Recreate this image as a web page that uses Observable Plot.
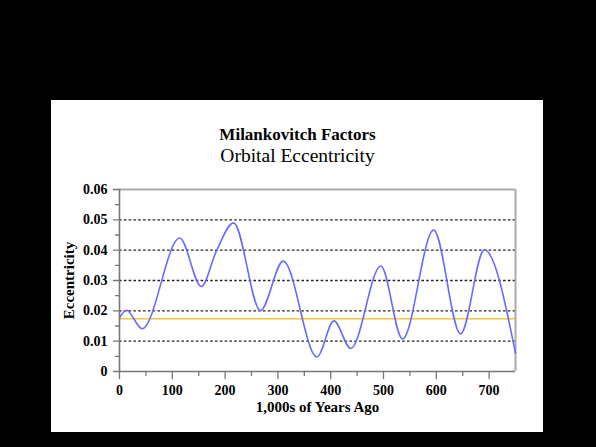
<!DOCTYPE html>
<html><head><meta charset="utf-8">
<script src="https://cdn.jsdelivr.net/npm/d3@7"></script>
<script src="https://cdn.jsdelivr.net/npm/@observablehq/plot@0.6"></script>
<style>
html,body{margin:0;padding:0;background:#000;width:596px;height:447px;overflow:hidden}
#panel{position:absolute;left:51px;top:100px;width:492px;height:332px;background:#fff}
#panel svg{display:block}
</style></head><body><div id="panel"></div>
<script>
const years = [0, 13, 43, 114, 155, 183, 216, 267, 310, 374, 406, 438, 495, 536, 595, 646, 691, 750];
const eccentricity = [0.0177, 0.0202, 0.0141, 0.0440, 0.0280, 0.0395, 0.0490, 0.0201, 0.0364, 0.0048, 0.0167, 0.0076, 0.0348, 0.0107, 0.0466, 0.0124, 0.0401, 0.0060];
const meanEccentricity = 0.0174;
const yTicks = [0, 0.01, 0.02, 0.03, 0.04, 0.05, 0.06];
const yGrid = [0.01, 0.02, 0.03, 0.04, 0.05];
const yMinor = [0.005, 0.015, 0.025, 0.035, 0.045, 0.055];
const xTicks = [0, 100, 200, 300, 400, 500, 600, 700];
const xMinor = [50, 150, 250, 350, 450, 550, 650];
const title = "Milankovitch Factors";
const subtitle = "Orbital Eccentricity";
const xLabel = "1,000s of Years Ago";
const yLabel = "Eccentricity";

const data = years.map((x, i) => ({x, y: eccentricity[i]}));
const font = "'Liberation Serif', 'Times New Roman', serif";
const axisColor = "#777";
const tickShape = {draw(context, l) { context.moveTo(0, l / 2); context.lineTo(0, -l / 2); }};

const chart = Plot.plot({
  width: 492, height: 332,
  marginLeft: 68, marginRight: 28, marginTop: 89, marginBottom: 61,
  style: {background: "transparent", fontFamily: font, fontSize: "14px", color: "#000"},
  x: {domain: [0, 750]},
  y: {domain: [0, 0.06]},
  marks: [
    Plot.gridY(yGrid, {stroke: "#222", strokeOpacity: 1, strokeDasharray: "2.6,2.2", strokeWidth: 1.3}),
    Plot.ruleY([0.06], {stroke: "#aaa", strokeWidth: 2}),
    Plot.ruleX([750], {stroke: "#aaa", strokeWidth: 2}),
    Plot.ruleY([meanEccentricity], {stroke: "#f5c23c", strokeWidth: 1.6}),
    Plot.line(data, {x: "x", y: "y", curve: "monotone-x", stroke: "#6a6aff", strokeWidth: 1.6}),
    Plot.ruleY([0], {stroke: axisColor, strokeWidth: 1.6}),
    Plot.ruleX([0], {stroke: axisColor, strokeWidth: 1.6}),
    Plot.vector(yTicks, {y: d => d, frameAnchor: "left", rotate: 90, length: 6, anchor: "middle", shape: tickShape, stroke: axisColor, strokeWidth: 1.3}),
    Plot.vector(yMinor, {y: d => d, frameAnchor: "left", rotate: 90, length: 4, anchor: "middle", shape: tickShape, stroke: axisColor, strokeWidth: 1.3}),
    Plot.vector(xTicks, {x: d => d, frameAnchor: "bottom", rotate: 0, length: 7, anchor: "middle", shape: tickShape, stroke: axisColor, strokeWidth: 1.3}),
    Plot.vector(xMinor, {x: d => d, frameAnchor: "bottom", rotate: 0, length: 4, anchor: "middle", shape: tickShape, stroke: axisColor, strokeWidth: 1.3}),
    Plot.axisY(yTicks, {tickSize: 0, tickPadding: 12, tickFormat: d => d === 0 ? "0" : d.toFixed(2), fontSize: 14, fontWeight: "bold", fill: "#000", label: null}),
    Plot.axisX(xTicks, {tickSize: 0, tickPadding: 14, fontSize: 14, fontWeight: "bold", fill: "#000", label: null}),
    Plot.text([xLabel], {frameAnchor: "bottom", dy: 40, fontSize: 15, fontWeight: "bold", fill: "#000"}),
    Plot.text([yLabel], {frameAnchor: "left", dx: -50, rotate: -90, textAnchor: "middle", fontSize: 15, fontWeight: "bold", fill: "#000"}),
    Plot.text([title], {frameAnchor: "top", dx: -20, dy: -62, fontSize: 17, fontWeight: "bold", fill: "#000"}),
    Plot.text([subtitle], {frameAnchor: "top", dx: -20, dy: -41, fontSize: 19.5, fill: "#000"})
  ]
});
document.getElementById("panel").appendChild(chart);
</script></body></html>
